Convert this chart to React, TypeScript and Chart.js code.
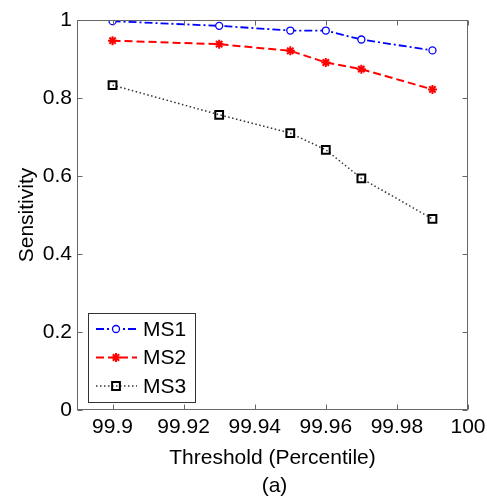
import React, { useEffect, useRef } from 'react';
import { Chart, registerables } from 'chart.js';
Chart.register(...registerables);

const thresholds = [99.9, 99.93, 99.95, 99.96, 99.97, 99.99];
const ms1 = [0.997, 0.985, 0.973, 0.973, 0.95, 0.922];
const ms2 = [0.947, 0.938, 0.921, 0.891, 0.874, 0.822];
const ms3 = [0.833, 0.757, 0.71, 0.667, 0.594, 0.49];
const xTicks = [99.9, 99.92, 99.94, 99.96, 99.98, 100];
const yTicks = [0, 0.2, 0.4, 0.6, 0.8, 1];
const seriesLabels = ['MS1', 'MS2', 'MS3'];
const xTitle = 'Threshold (Percentile)';
const yTitle = 'Sensitivity';
const caption = '(a)';

const FONT = "'Liberation Sans', Arial, sans-serif";
const AXIS = '#666666';

const styles = [
  { color: '#0000ff', dash: [8, 3, 2, 3], point: 'circle', radius: 3.5, width: 1.8, pw: 1.3 },
  { color: '#ff0000', dash: [8, 4], point: 'star', radius: 4.5, width: 2, pw: 2 },
  { color: '#333333', dash: [1.5, 2.5], point: 'rect', radius: 5.5, width: 1.5, pw: 2 },
];
const pointColors = ['#0000ff', '#ff0000', '#000000'];

function drawMarker(ctx: CanvasRenderingContext2D, kind: string, x: number, y: number, r: number, color: string, lw: number) {
  ctx.save();
  ctx.setLineDash([]);
  ctx.strokeStyle = color;
  ctx.lineWidth = lw;
  ctx.beginPath();
  if (kind === 'circle') {
    ctx.fillStyle = '#fff';
    ctx.arc(x, y, r, 0, Math.PI * 2);
    ctx.fill();
    ctx.stroke();
  } else if (kind === 'star') {
    for (let i = 0; i < 4; i++) {
      const a = (i * Math.PI) / 4;
      ctx.moveTo(x - Math.cos(a) * r, y - Math.sin(a) * r);
      ctx.lineTo(x + Math.cos(a) * r, y + Math.sin(a) * r);
    }
    ctx.stroke();
  } else {
    const s = r * Math.SQRT1_2;
    ctx.rect(x - s, y - s, 2 * s, 2 * s);
    ctx.stroke();
  }
  ctx.restore();
}

const framePlugin = {
  id: 'frame',
  afterDraw(chart: any) {
    const ctx = chart.ctx as CanvasRenderingContext2D;
    const { left, right, top, bottom } = chart.chartArea;
    const xs = chart.scales.x;
    const ys = chart.scales.y;
    ctx.save();
    ctx.strokeStyle = AXIS;
    ctx.lineWidth = 1;
    ctx.setLineDash([]);
    const L = Math.round(left) + 0.5, R = Math.round(right) - 0.5;
    const T = Math.round(top) + 0.5, B = Math.round(bottom) - 0.5;
    ctx.strokeRect(L, T, R - L, B - T);
    ctx.beginPath();
    xTicks.forEach((v) => {
      const px = Math.round(xs.getPixelForValue(v)) + 0.5;
      ctx.moveTo(px, B); ctx.lineTo(px, B - 5);
      ctx.moveTo(px, T); ctx.lineTo(px, T + 5);
    });
    yTicks.forEach((v) => {
      const py = Math.round(ys.getPixelForValue(v)) + 0.5;
      ctx.moveTo(L, py); ctx.lineTo(L + 5, py);
      ctx.moveTo(R, py); ctx.lineTo(R - 5, py);
    });
    ctx.stroke();

    // legend
    const lx = left + 11, ly = bottom - 97, lw = 107, lh = 89;
    ctx.fillStyle = '#fff';
    ctx.fillRect(lx, ly, lw, lh);
    ctx.strokeStyle = '#333';
    ctx.strokeRect(Math.round(lx) + 0.5, Math.round(ly) + 0.5, lw, lh);
    seriesLabels.forEach((lab, i) => {
      const st = styles[i];
      const cy = ly + 16 + i * 28.5;
      ctx.save();
      ctx.strokeStyle = st.color;
      ctx.lineWidth = st.width;
      ctx.setLineDash(st.dash);
      ctx.beginPath();
      ctx.moveTo(lx + 8, cy);
      ctx.lineTo(lx + 49, cy);
      ctx.stroke();
      ctx.restore();
      drawMarker(ctx, st.point, lx + 28, cy, st.radius, pointColors[i], st.pw);
      ctx.fillStyle = '#000';
      ctx.font = `21px ${FONT}`;
      ctx.textBaseline = 'middle';
      ctx.textAlign = 'left';
      ctx.fillText(lab, lx + 55, cy + 1);
    });

    ctx.font = `21px ${FONT}`;
    ctx.textAlign = 'center';
    ctx.textBaseline = 'middle';
    ctx.fillStyle = '#000';
    ctx.fillText(caption, (left + right) / 2 + 2, 486);
    ctx.restore();
  },
};

export default function App() {
  const ref = useRef<HTMLCanvasElement>(null);
  useEffect(() => {
    if (!ref.current) return;
    const seriesData = [ms1, ms2, ms3];
    const chart = new Chart(ref.current, {
      type: 'line',
      data: {
        datasets: seriesData.map((arr, i) => ({
          label: seriesLabels[i],
          data: thresholds.map((t, j) => ({ x: t, y: arr[j] })),
          borderColor: styles[i].color,
          borderWidth: styles[i].width,
          borderDash: styles[i].dash,
          pointStyle: styles[i].point as any,
          pointRadius: styles[i].radius,
          pointBorderColor: pointColors[i],
          pointBackgroundColor: i === 0 ? '#fff' : 'transparent',
          pointBorderWidth: styles[i].pw,
          fill: false,
          tension: 0,
        })),
      },
      options: {
        responsive: false,
        animation: false,
        events: [],
        layout: { padding: { left: 0, top: 20, right: 19, bottom: 30 } },
        plugins: { legend: { display: false }, tooltip: { enabled: false } },
        scales: {
          x: {
            type: 'linear',
            min: 99.89,
            max: 100,
            grid: { display: false, drawTicks: false },
            border: { display: false },
            afterBuildTicks: (s: any) => { s.ticks = xTicks.map((v) => ({ value: v })); },
            afterFit: (s: any) => { s.height = 63; s.paddingLeft = 0; s.paddingRight = 0; },
            ticks: {
              color: '#000',
              font: { size: 21, family: FONT },
              padding: 5,
              maxRotation: 0,
              autoSkip: false,
              callback: (v: any) => String(Math.round(Number(v) * 100) / 100),
            },
            title: { display: true, text: xTitle, color: '#000', font: { size: 21, family: FONT }, padding: { top: 0, bottom: 2 } },
          },
          y: {
            type: 'linear',
            min: 0,
            max: 1,
            grid: { display: false, drawTicks: false },
            border: { display: false },
            afterBuildTicks: (s: any) => { s.ticks = yTicks.map((v) => ({ value: v })); },
            afterFit: (s: any) => { s.width = 77; s.paddingTop = 0; s.paddingBottom = 0; },
            ticks: {
              color: '#000',
              font: { size: 21, family: FONT },
              padding: 5,
              autoSkip: false,
              callback: (v: any) => String(Math.round(Number(v) * 10) / 10),
            },
            title: { display: true, text: yTitle, color: '#000', font: { size: 21, family: FONT }, padding: { top: 15, bottom: 0 } },
          },
        },
      },
      plugins: [framePlugin],
    });
    return () => chart.destroy();
  }, []);
  return (
    <div style={{ position: 'absolute', left: 0, top: 0, width: 487, height: 503, background: '#fff' }}>
      <canvas ref={ref} width={487} height={503} />
    </div>
  );
}
